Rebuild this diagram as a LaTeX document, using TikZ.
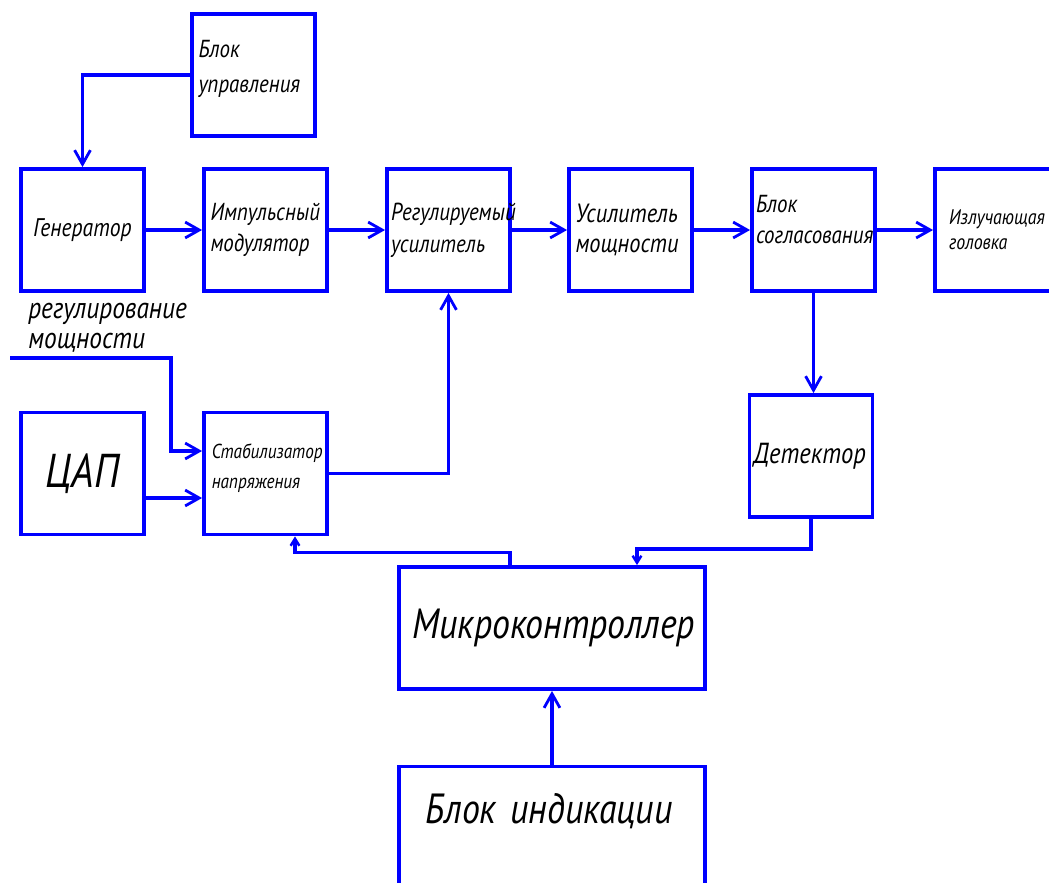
\documentclass[tikz,border=0pt]{standalone}
\usepackage{fontspec}
\setmainfont{PT Sans}[FakeStretch=0.85]
\usetikzlibrary{arrows.meta, calc}

\begin{document}
\begin{tikzpicture}[x=0.02cm, y=-0.02cm,
  blok/.style={draw=blue, line width=2.2pt, minimum width=2.46cm, minimum height=2.44cm,
    text width=2.2cm, align=left, inner sep=0pt, font=\itshape\fontsize{14}{18}\selectfont},
  bolshoj/.style={blok, minimum width=6.12cm, text width=5.6cm, font=\itshape\fontsize{24}{28}\selectfont},
  svyaz/.style={blue, line width=2pt, -{Straight Barb[length=8pt,width=9pt,line width=1.6pt]}},
  svyazm/.style={blue, line width=2pt, -{Straight Barb[length=4pt,width=5pt,line width=1.4pt]}},
  podpis/.style={align=left, inner sep=0pt, font=\itshape\fontsize{17}{17}\selectfont}]

\useasboundingbox (0,0) rectangle (1049,883);

\node[blok, font=\itshape\fontsize{14}{20}\selectfont] (upr) at (253.5,75) {Блок\\управления\\[-10pt]\mbox{}};
\node[blok, align=center, font=\itshape\fontsize{14.5}{18}\selectfont] (gen) at (82.5,230) {Генератор};
\node[blok] (imp) at (265.5,230) {Импульсный\\модулятор};
\node[blok, text width=2.3cm] (reg) at (448.5,230) {Регулируемый\\усилитель};
\node[blok, font=\itshape\fontsize{15}{17}\selectfont] (usm) at (630.5,230) {Усилитель\\мощности};
\node[blok, text width=2.3cm] (sogl) at (813.5,230) {Блок\\согласования\\[-6pt]\mbox{}};
\node[blok, text width=1.9cm, font=\itshape\fontsize{12}{14}\selectfont] (izl) at (996.5,230) {Излучающая\\головка};

\node[blok, align=center, font=\itshape\fontsize{27}{30}\selectfont] (cap) at (82.5,473.5) {ЦАП};
\node[blok, text width=2.15cm, font=\itshape\fontsize{11.5}{17}\selectfont] (stab) at (265.5,473.5) {Стабилизатор\\напряжения\\[-9pt]\mbox{}};
\node[blok, text width=2.3cm, font=\itshape\fontsize{16.5}{18}\selectfont] (det) at (811,456) {Детектор};

\node[bolshoj] (mk) at (552,628) {Микроконтроллер};
\node[bolshoj, minimum height=2.5cm, text width=5.05cm] (ind) at (552,829) {Блок индикации\\[-5pt]\mbox{}};

\node[podpis, anchor=south west] (regp) at (28,353) {регулирование\\мощности};
\coordinate (vhod) at (10,358);

\draw[svyaz] (upr.west) -| (gen.north);
\draw[svyaz] (gen.east) -- (imp.west);
\draw[svyaz] (imp.east) -- (reg.west);
\draw[svyaz] (reg.east) -- (usm.west);
\draw[svyaz] (usm.east) -- (sogl.west);
\draw[svyaz] (sogl.east) -- (izl.west);
\draw[svyaz] (sogl.south) -- (sogl.south |- det.north);
\draw[svyaz] (stab.east) -| (reg.south);
\draw[svyaz] (vhod) -| ($(stab.west)+(-31,-22.5)$) -- ($(stab.west)+(0,-22.5)$);
\draw[svyaz] ($(cap.east)+(0,24.5)$) -- ($(stab.west)+(0,24.5)$);
\draw[svyazm] ($(mk.north)+(-42,0)$) |- ($(stab.south)+(29.5,16)$) -- ($(stab.south)+(29.5,0)$);
\draw[svyazm] (det.south) |- ($(mk.north)+(85,-16)$) -- ($(mk.north)+(85,0)$);
\draw[svyaz] (ind.north) -- (mk.south);

\end{tikzpicture}
\end{document}
